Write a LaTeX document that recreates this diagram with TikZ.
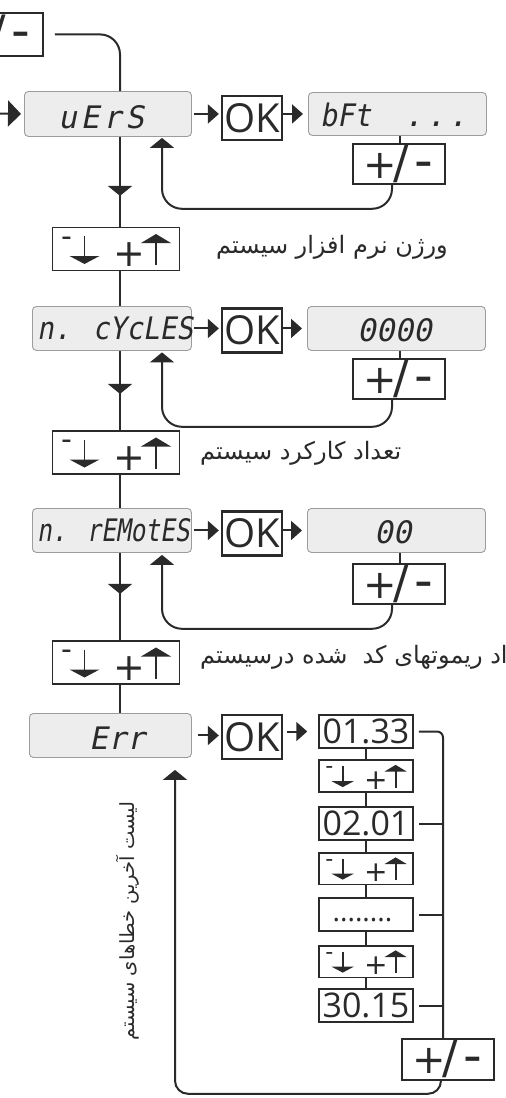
\documentclass[tikz,border=0pt]{standalone}
\usepackage{fontspec}
\setmainfont{Open Sans}
\newfontfamily\seg[FakeSlant=0.2]{DejaVu Sans Mono}
\newfontfamily\fa[Script=Arabic]{DejaVu Sans}
\newfontfamily\sym{DejaVu Sans}
\TeXXeTstate=1
\usetikzlibrary{arrows.meta,decorations.markings}
\definecolor{ink}{HTML}{2A2A2A}
\definecolor{lcd}{HTML}{EDEDED}
\definecolor{lcdline}{HTML}{9C9C9C}
\tikzset{
 conn/.style={draw=ink, line width=2pt},
 lcdbox/.style={draw=lcdline, fill=lcd, rounded corners=4pt, line width=0.9pt, inner sep=0pt, anchor=north west},
 keybox/.style={draw=ink, line width=1.8pt, fill=white, inner sep=0pt},
 okbox/.style={draw=ink, line width=2.3pt, fill=white, inner sep=0pt, minimum width=60pt, minimum height=44pt, text=ink, font=\fontsize{40}{40}\selectfont},
 lbox/.style={draw=ink, line width=1.5pt, fill=white, inner sep=0pt, minimum width=94pt, minimum height=33pt, text=ink, font=\fontsize{34}{34}\selectfont},
 segtxt/.style={text=ink, inner sep=0pt, anchor=base west},
 glyph/.style={inner sep=0pt, text=ink},
 lbl/.style={text=ink, inner sep=0pt, font=\fa\fontsize{24}{24}\selectfont},
 vlbl/.style={text=ink, inner sep=0pt, font=\fa\fontsize{19.5}{19.5}\selectfont},
 rtip/.style={-{Triangle[length=11pt,width=19pt]}},
 utip/.style={-{Triangle[length=10pt,width=24pt]}},
 downmark/.style={postaction=decorate, decoration={markings, mark=at position #1 with {\arrow{Triangle[length=10pt,width=24pt]}}}},
}
\newcommand\segfont[1]{\seg\fontsize{#1}{#1}\selectfont}
\newcommand\pmtext{{\sym\fontsize{40}{40}\selectfont+}\kern-3.8pt{\sym\fontsize{46}{46}\selectfont/}\kern5.5pt{\sym\fontsize{52}{52}\selectfont-}}
\newcommand\pmkey[5]{%
 \node[keybox, anchor=north west, minimum width=#4, minimum height=#5] (#1) at (#2,#3) {};
 \node[glyph, anchor=base west] (#1t) at ([xshift=11.2pt,yshift=-14.5pt]#1.west) {\pmtext};
 \coordinate (#1s) at ([xshift=48pt]#1.west);
 \coordinate (#1b) at ([xshift=40pt]#1.south west);
}
\newcommand\udkey[4]{%
 \begin{scope}[shift={(#2,#3)}, scale=#4]
 \node[keybox, minimum width=127pt, minimum height=43pt, transform shape] (#1) at (0,0) {};
 \node[glyph, transform shape, anchor=north, font=\sym\fontsize{30}{30}\selectfont] (#1m) at (-49.5,-12.5) {-};
 \draw[ink, line width=1.8pt] (-31.5,-13) -- (-31.5,8);
 \fill[ink] (-46.5,7) -- (-16.5,7) -- (-31.5,15) -- cycle;
 \node[glyph, transform shape, font=\sym\fontsize{38}{38}\selectfont] (#1p) at (13.5,6) {+};
 \draw[ink, line width=1.8pt] (40,-7) -- (40,16);
 \fill[ink] (25,-6) -- (55,-6) -- (40,-15) -- cycle;
 \end{scope}}
\begin{document}
\begin{tikzpicture}[x=1pt,y=-1pt]
\useasboundingbox (0,0) rectangle (506,1098);
\clip (0,0) rectangle (506,1098);
\coordinate (mx) at (120,0);
\coordinate (rx) at (443,0);
\coordinate (in1) at (0,113.5);
% ---------- row 1
\node[lcdbox, minimum width=167pt, minimum height=45pt] (D1) at (24,91) {};
\node[segtxt, font=\segfont{31}\addfontfeature{LetterSpace=12}] (t1) at (58,128) {uErS};
\node[okbox] (O1) at (252,118) {OK};
\node[lcdbox, minimum width=178pt, minimum height=43pt] (V1) at (308,92) {};
\node[segtxt, font=\segfont{31}] (t1v) at (320,126) {\scalebox{0.91}[1]{bFt}\hspace{33pt}.\hspace{3.5pt}.\hspace{3.5pt}.};
% top-left key, mostly outside the picture
\node[keybox, anchor=north west, minimum width=92pt, minimum height=43pt] (P0) at (-50,12) {};
\node[glyph, anchor=base west] (P0t) at ([xshift=39.9pt,yshift=-14.5pt]P0.west) {{\sym\fontsize{46}{46}\selectfont/}\kern5.5pt{\sym\fontsize{52}{52}\selectfont-}};
\pmkey{P1}{352}{143}{92pt}{40pt}
\udkey{K1}{116}{249}{1}
\node[lbl, anchor=east] (L1t) at (448,247) {\beginR ورژن نرم افزار سیستم\endR};
\draw[conn, -{Triangle[length=13pt,width=26pt]}, shorten >=3pt] (in1) -- (D1.west);
\draw[conn, rounded corners=20pt] ([xshift=11pt]P0.east) -| (D1.north -| mx);
\draw[conn, rtip, shorten <=2pt, shorten >=2pt] (D1.east) -- (D1.east -| O1.west);
\draw[conn, rtip, shorten >=5pt] (V1.west -| O1.east) -- (V1.west);
\draw[conn] (V1.south -| P1s) -- (P1.north -| P1s);
\draw[conn, rounded corners=20pt, utip] (P1b) -- ++(0,24) -| ([xshift=138pt,yshift=-1pt]D1.south west);
\draw[conn, downmark=59pt] (D1.south -| mx) -- (K1.north -| mx);
% ---------- row 2
\node[lcdbox, minimum width=159pt, minimum height=44pt] (D2) at (32,306) {};
\node[segtxt, font=\segfont{31}] (t2) at (37,339) {\scalebox{0.895}[1]{n. cYcLES}};
\node[okbox] (O2) at (252,330.5) {OK};
\node[lcdbox, minimum width=178pt, minimum height=44pt] (V2) at (307,306) {};
\node[segtxt, font=\segfont{31}] (t2v) at (357,341) {0000};
\pmkey{P2}{352}{358}{92pt}{40pt}
\udkey{K2}{116}{452.5}{1}
\node[lbl, anchor=west] (L2t) at (200,453) {\beginR تعداد کارکرد سیستم\endR};
\draw[conn] (K1.south -| mx) -- (D2.north -| mx);
\draw[conn, rtip, shorten <=2pt, shorten >=2pt] (D2.east) -- (D2.east -| O2.west);
\draw[conn, rtip, shorten >=5pt] (V2.west -| O2.east) -- (V2.west);
\draw[conn] (V2.south -| P2s) -- (P2.north -| P2s);
\draw[conn, rounded corners=20pt, utip] (P2b) -- ++(0,27) -| ([xshift=130pt,yshift=-1.5pt]D2.south west);
\draw[conn, downmark=43pt] (D2.south -| mx) -- (K2.north -| mx);
% ---------- row 3
\node[lcdbox, minimum width=159pt, minimum height=44pt] (D3) at (32,508) {};
\node[segtxt, font=\segfont{31}] (t3) at (37,541) {\scalebox{0.79}[1]{n. rEMotES}};
\node[okbox] (O3) at (252,533.5) {OK};
\node[lcdbox, minimum width=178pt, minimum height=44pt] (V3) at (307,508) {};
\node[segtxt, font=\segfont{31}] (t3v) at (374,543) {00};
\pmkey{P3}{352}{563}{92pt}{40pt}
\udkey{K3}{116}{662.5}{1}
\node[lbl, anchor=west] (L3t) at (200,657) {\beginR اد ریموتهای کد~~شده درسیستم\endR};
\draw[conn] (K2.south -| mx) -- (D3.north -| mx);
\draw[conn, rtip, shorten <=2pt, shorten >=2pt] (D3.east) -- (D3.east -| O3.west);
\draw[conn, rtip, shorten >=5pt] (V3.west -| O3.east) -- (V3.west);
\draw[conn] (V3.south -| P3s) -- (P3.north -| P3s);
\draw[conn, rounded corners=20pt, utip] (P3b) -- ++(0,24) -| ([xshift=130pt,yshift=-2pt]D3.south west);
\draw[conn, downmark=41pt] (D3.south -| mx) -- (K3.north -| mx);
% ---------- row 4
\node[lcdbox, minimum width=162pt, minimum height=44pt] (D4) at (29,713) {};
\node[segtxt, font=\segfont{31}] (t4) at (89,749) {Err};
\node[okbox] (O4) at (252,737) {OK};
\node[lbox] (L1) at (366,731.5) {01.33};
\udkey{K4}{366}{776}{0.74}
\node[lbox] (L2) at (366,823.5) {02.01};
\udkey{K5}{366}{868.5}{0.74}
\node[lbox] (L3) at (366,914.5) {};
\node[glyph, font=\fontsize{28}{28}\selectfont] (L3d) at (362.5,920) {........};
\udkey{K6}{366}{961.5}{0.74}
\node[lbox] (L4) at (366,1005.5) {30.15};
\pmkey{P4}{401}{1038}{92pt}{41pt}
\node[vlbl, rotate=90] (L4t) at (128,921) {\beginR لیست آخرین خطاهای سیستم\endR};
\draw[conn] (K3.south -| mx) -- (D4.north -| mx);
\draw[conn, rtip, shorten <=6pt, shorten >=2pt] (D4.east) -- (D4.east -| O4.west);
\draw[conn, rtip, shorten <=4pt, shorten >=11pt] (L1.west -| O4.east) -- (L1.west);
\draw[conn] (L1.south) -- (K4.north);
\draw[conn] (K4.south) -- (L2.north);
\draw[conn] (L2.south) -- (K5.north);
\draw[conn] (K5.south) -- (L3.north);
\draw[conn] (L3.south) -- (K6.north);
\draw[conn] (K6.south) -- (L4.north);
\draw[conn, rounded corners=6pt] ([xshift=5pt]L1.east) -| (P4.north -| rx);
\draw[conn] ([xshift=5pt]L2.east) -- (L2.east -| rx);
\draw[conn] ([xshift=5pt]L3.east) -- (L3.east -| rx);
\draw[conn] ([xshift=5pt]L4.east) -- (L4.east -| rx);
\draw[conn, rounded corners=13pt, utip] (P4b) -- ++(0,13) -| ([xshift=146pt,yshift=-12pt]D4.south west);
\end{tikzpicture}
\end{document}
